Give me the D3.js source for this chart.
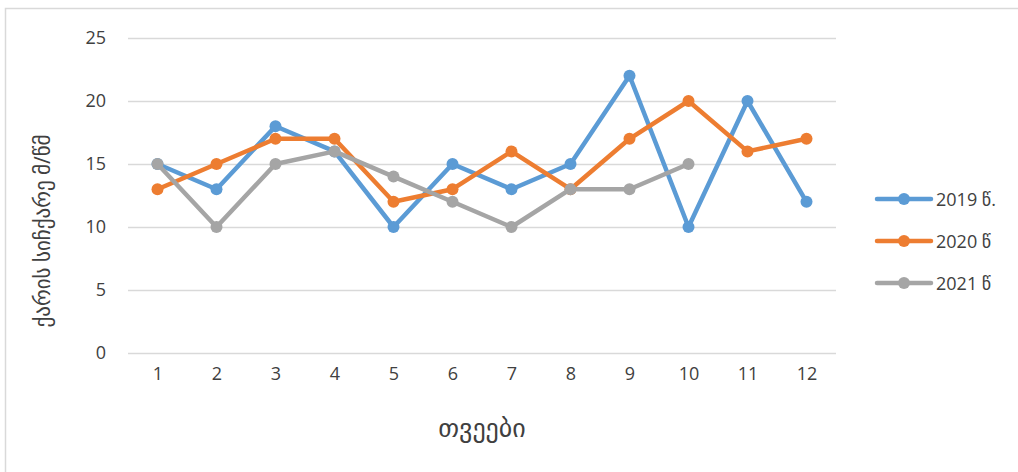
<!DOCTYPE html>
<html><head><meta charset="utf-8">
<script src="https://cdn.jsdelivr.net/npm/d3@7"></script>
<style>
body{margin:0;background:#fff;}
text{font-family:"Open Sans","DejaVu Sans",sans-serif;fill:#404040;}
</style></head><body>
<svg id="c" width="1018" height="472"></svg>
<script>
const months = [1,2,3,4,5,6,7,8,9,10,11,12];
const s2019 = [15,13,18,16,10,15,13,15,22,10,20,12];
const s2020 = [13,15,17,17,12,13,16,13,17,20,16,17];
const s2021 = [15,10,15,16,14,12,10,13,13,15];
const seriesNames = ["2019 წ.","2020 წ","2021 წ"];
const colors = ["#5B9BD5","#ED7D31","#A5A5A5"];
const yTicks = [0,5,10,15,20,25];
const yTitle = "ქარის სიჩქარე მ/წმ";
const xTitle = "თვეები";

(function(){
const svg = d3.select("#c");
svg.append("rect").attr("x",5.5).attr("y",8.5).attr("width",1040).attr("height",500)
  .attr("fill","#fff").attr("stroke","#d9d9d9").attr("stroke-width",1.5);

const pl=128,pr=836,pt=38,pb=353;
const x = d3.scalePoint().domain(months).range([pl,pr]).padding(0.5);
const y = d3.scaleLinear().domain([0,25]).range([pb,pt]);

const yAxis = svg.append("g").attr("transform",`translate(${pl},0)`)
  .call(d3.axisLeft(y).tickValues(yTicks).tickSize(-(pr-pl)).tickPadding(22));
yAxis.select(".domain").remove();
yAxis.selectAll("line").attr("stroke","#d9d9d9").attr("stroke-width",1.5);
yAxis.selectAll("text").style("font-size","18px").attr("fill","#404040");

const xAxis = svg.append("g").attr("transform",`translate(0,${pb})`)
  .call(d3.axisBottom(x).tickSize(0).tickPadding(14));
xAxis.select(".domain").remove();
xAxis.selectAll("text").style("font-size","18px").attr("fill","#404040");

const all=[s2019,s2020,s2021];
const line = d3.line().x((d,i)=>x(months[i])).y(d=>y(d));
all.forEach((s,k)=>{
  svg.append("path").datum(s).attr("d",line).attr("fill","none")
    .attr("stroke",colors[k]).attr("stroke-width",4.5).attr("stroke-linejoin","round").attr("stroke-linecap","round");
  svg.selectAll(null).data(s).enter().append("circle")
    .attr("cx",(d,i)=>x(months[i])).attr("cy",d=>y(d)).attr("r",6).attr("fill",colors[k]);
});

svg.append("text").attr("x",482).attr("y",437).attr("text-anchor","middle")
  .style("font-size","26px").text(xTitle);
svg.append("text").attr("transform",`translate(50,231) rotate(-90)`)
  .attr("text-anchor","middle").style("font-size","21px").text(yTitle);

const lg = svg.append("g");
const ly=[199,241,283];
seriesNames.forEach((n,k)=>{
  lg.append("line").attr("x1",877).attr("x2",931).attr("y1",ly[k]).attr("y2",ly[k])
    .attr("stroke",colors[k]).attr("stroke-width",4.5).attr("stroke-linecap","round");
  lg.append("circle").attr("cx",904).attr("cy",ly[k]).attr("r",6).attr("fill",colors[k]);
  lg.append("text").attr("x",936).attr("y",ly[k]+7).style("font-size","18px").text(n);
});
})();
</script></body></html>
